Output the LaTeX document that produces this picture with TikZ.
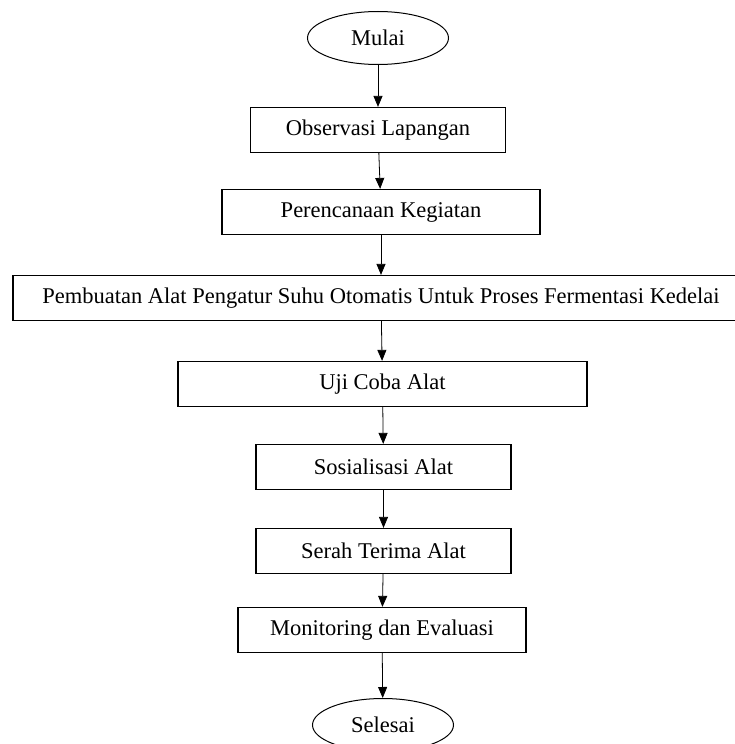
\documentclass[tikz,border=0pt]{standalone}
\usepackage{fontspec}
\setmainfont{Liberation Serif}
\usetikzlibrary{shapes.geometric,arrows.meta}

\begin{document}
\begin{tikzpicture}[>={Triangle[width=9pt,length=11pt]}, node distance=84pt]
        % Style des noeuds
        \tikzstyle{terminal} = [ellipse, draw, line width=1pt, minimum width=141pt, minimum height=53pt, inner sep=0pt, font=\fontsize{22.5}{27}\selectfont]
        \tikzstyle{process} = [rectangle, draw, line width=1.2pt, minimum height=45pt, inner sep=0pt, font=\fontsize{22.5}{27}\selectfont]

        % Cadre de l'image
        \useasboundingbox (-378pt,38pt) rectangle ++(735pt,-744pt);

        % Définition des noeuds
        \node[terminal] (mulai) at (0,0) {Mulai};
        \node[process, minimum width=255pt] (observasi) [below of=mulai, node distance=92pt] {Observasi Lapangan};
        \node[process, minimum width=318pt] (perencanaan) [below of=observasi, node distance=82pt, xshift=3pt] {Perencanaan Kegiatan};
        \node[process, minimum width=736pt] (pembuatan) [below of=perencanaan, node distance=86pt] {Pembuatan Alat Pengatur Suhu Otomatis Untuk Proses Fermentasi Kedelai};
        \node[process, minimum width=409pt] (ujicoba) [below of=pembuatan, node distance=86pt, xshift=1.5pt] {Uji Coba Alat};
        \node[process, minimum width=255pt] (sosialisasi) [below of=ujicoba, node distance=83pt, xshift=1pt] {Sosialisasi Alat};
        \node[process, minimum width=255pt] (serah) [below of=sosialisasi, node distance=84pt] {Serah Terima Alat};
        \node[process, minimum width=288pt] (monitoring) [below of=serah, node distance=79pt, xshift=-1.5pt] {Monitoring dan Evaluasi};
        \node[terminal] (selesai) [below of=monitoring, node distance=95pt, xshift=1pt] {Selesai};

        % Arcs entre les noeuds
        \draw[->, line width=0.8pt] (mulai) -- (observasi);
        \draw[->, line width=0.8pt] (observasi) -- (perencanaan);
        \draw[->, line width=0.8pt] (perencanaan) -- (pembuatan);
        \draw[->, line width=0.8pt] (pembuatan) -- (ujicoba);
        \draw[->, line width=0.8pt] (ujicoba) -- (sosialisasi);
        \draw[->, line width=0.8pt] (sosialisasi) -- (serah);
        \draw[->, line width=0.8pt] (serah) -- (monitoring);
        \draw[->, line width=0.8pt] (monitoring) -- (selesai);

    \end{tikzpicture}
\end{document}
